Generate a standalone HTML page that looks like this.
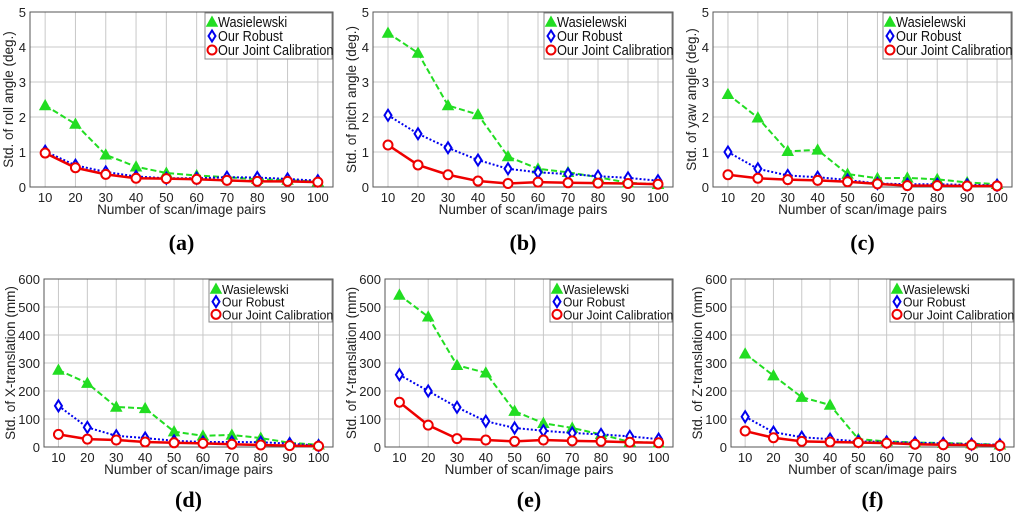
<!DOCTYPE html>
<html><head><meta charset="utf-8"><style>
html,body{margin:0;padding:0;background:#fff;}
svg{display:block;font-family:"Liberation Sans",sans-serif;}
</style></head><body>
<svg id="fig" width="1024" height="516" viewBox="0 0 1024 516"></svg>
<script>
const categories=[10,20,30,40,50,60,70,80,90,100];
const xTicks=[10,20,30,40,50,60,70,80,90,100];
const angleTicks=[0,1,2,3,4,5];
const mmTicks=[0,100,200,300,400,500,600];
const seriesNames=["Wasielewski","Our Robust","Our Joint Calibration"];
const rollW=[2.33,1.8,0.92,0.58,0.4,0.33,0.28,0.22,0.2,0.15];
const rollR=[1.02,0.62,0.43,0.3,0.25,0.25,0.28,0.27,0.23,0.18];
const rollJ=[0.97,0.55,0.36,0.25,0.24,0.22,0.19,0.16,0.16,0.14];
const pitchW=[4.4,3.83,2.33,2.07,0.87,0.52,0.42,0.28,0.12,0.08];
const pitchR=[2.05,1.52,1.12,0.77,0.52,0.42,0.37,0.31,0.26,0.18];
const pitchJ=[1.2,0.63,0.35,0.17,0.1,0.14,0.12,0.11,0.1,0.08];
const yawW=[2.65,1.98,1.02,1.06,0.37,0.25,0.26,0.22,0.13,0.08];
const yawR=[1.0,0.52,0.33,0.28,0.2,0.1,0.08,0.08,0.06,0.05];
const yawJ=[0.35,0.25,0.21,0.19,0.15,0.09,0.04,0.04,0.03,0.03];
const xtW=[275,228,143,138,55,40,43,32,15,8];
const xtR=[147,70,40,32,22,18,18,17,12,5];
const xtJ=[45,28,25,18,15,13,10,7,5,3];
const ytW=[543,465,292,265,128,85,68,45,18,15];
const ytR=[258,200,142,92,68,58,50,45,38,28];
const ytJ=[160,78,30,25,20,25,22,20,17,15];
const ztW=[333,255,178,150,28,20,16,14,12,8];
const ztR=[108,53,35,28,20,18,15,13,10,8];
const ztJ=[57,33,20,18,16,14,10,8,7,5];

const panels=[
 {id:"a",l:30,r:333,t:12,b:187,max:5,ticks:angleTicks,yl:"Std. of roll angle (deg.)",data:[rollW,rollR,rollJ],lw:128},
 {id:"b",l:373,r:673,t:12,b:187,max:5,ticks:angleTicks,yl:"Std. of pitch angle (deg.)",data:[pitchW,pitchR,pitchJ],lw:129},
 {id:"c",l:713,r:1012,t:12,b:187,max:5,ticks:angleTicks,yl:"Std. of yaw angle (deg.)",data:[yawW,yawR,yawJ],lw:129},
 {id:"d",l:44,r:333,t:279,b:447,max:600,ticks:mmTicks,yl:"Std. of X-translation (mm)",data:[xtW,xtR,xtJ],lw:124},
 {id:"e",l:385,r:673,t:279,b:447,max:600,ticks:mmTicks,yl:"Std. of Y-translation (mm)",data:[ytW,ytR,ytJ],lw:123},
 {id:"f",l:731,r:1014,t:279,b:447,max:600,ticks:mmTicks,yl:"Std. of Z-translation (mm)",data:[ztW,ztR,ztJ],lw:124}
];
const NS="http://www.w3.org/2000/svg";
const fig=document.getElementById("fig");
function mk(tag,attrs,parent,text){const e=document.createElementNS(NS,tag);for(const k in attrs)e.setAttribute(k,attrs[k]);if(text!==undefined)e.textContent=text;(parent||fig).appendChild(e);return e;}
const colors=["#22dd22","#0000ee","#ee0000"];
const dashes=["6,3","2,2","none"];
function marker(g,k,x,y,c){
  let m;
  if(k===0){m=mk("polygon",{points:`${x},${y-5} ${x-5},${y+4} ${x+5},${y+4}`,fill:c,stroke:c,"stroke-width":1.5},g);}
  else if(k===1){m=mk("polygon",{points:`${x},${y-5.5} ${x-3.5},${y} ${x},${y+5.5} ${x+3.5},${y}`,fill:"#fff",stroke:c,"stroke-width":2},g);}
  else {m=mk("circle",{cx:x,cy:y,r:4.5,fill:"#fff",stroke:c,"stroke-width":2},g);}
  
  
}
panels.forEach(p=>{
  const g=mk("g",{});
  
  
  const xs=v=>p.l+(v-5)/100*(p.r-p.l);
  const ys=v=>p.b-v/p.max*(p.b-p.t);
  xTicks.forEach(v=>{const e=mk("line",{x1:xs(v),x2:xs(v),y1:p.t,y2:p.b,stroke:"#c8c8c8","stroke-width":1},g);});
  p.ticks.forEach(v=>{const e=mk("line",{x1:p.l,x2:p.r,y1:ys(v),y2:ys(v),stroke:"#c8c8c8","stroke-width":1},g);});
  const box=mk("rect",{x:p.l,y:p.t,width:p.r-p.l,height:p.b-p.t,fill:"none",stroke:"#555","stroke-width":1},g);
  
  xTicks.forEach(v=>{const e=mk("text",{x:xs(v),y:p.b+15,"text-anchor":"middle","font-size":13,fill:"#222"},g,String(v));});
  p.ticks.forEach(v=>{const e=mk("text",{x:p.l-4,y:ys(v)+5,"text-anchor":"end","font-size":13,fill:"#222"},g,String(v));});
  const xl=mk("text",{x:(p.l+p.r)/2,y:p.b+27,"text-anchor":"middle","font-size":13.5,fill:"#222"},g,"Number of scan/image pairs");
  
  const yx=p.l-(p.max===5?17:29), yy=(p.t+p.b)/2;
  const yl=mk("text",{x:yx,y:yy,"text-anchor":"middle","font-size":13.5,fill:"#222",transform:`rotate(-90 ${yx} ${yy})`},g,p.yl);
  
  p.data.forEach((arr,k)=>{
    const pts=arr.map((v,i)=>xs(categories[i])+","+ys(v)).join(" ");
    const pl=mk("polyline",{points:pts,fill:"none",stroke:colors[k],"stroke-width":k===2?2.5:2,"stroke-dasharray":dashes[k]},g);
    
    arr.forEach((v,i)=>marker(g,k,xs(categories[i]),ys(v),colors[k]));
  });
  const lh=p.max===5?46:42, lt=p.t+1, ll=p.r-p.lw;
  const lg=mk("g",{},g);
  mk("rect",{x:ll,y:lt,width:p.lw-1,height:lh,fill:"#fff",stroke:"#888","stroke-width":1},lg);
  const sx=(p.lw-17)/127;
  seriesNames.forEach((n,k)=>{
    const cy=lt+9+k*(lh-4)/3;
    marker(lg,k,ll+7,cy,colors[k]);
    const t=mk("text",{x:0,y:0,"font-size":14.5,fill:"#111",transform:`translate(${ll+13} ${cy+5}) scale(${sx} ${p.max===5?1:0.9})`},lg,n);
    
  });
  const cap=mk("text",{x:(p.l+p.r)/2,y:p.b+(p.max===5?63:60),"text-anchor":"middle","font-size":22,"font-weight":"bold","font-family":"Liberation Serif, serif",fill:"#000"},g,"("+p.id+")");
  
});
</script>
</body></html>
